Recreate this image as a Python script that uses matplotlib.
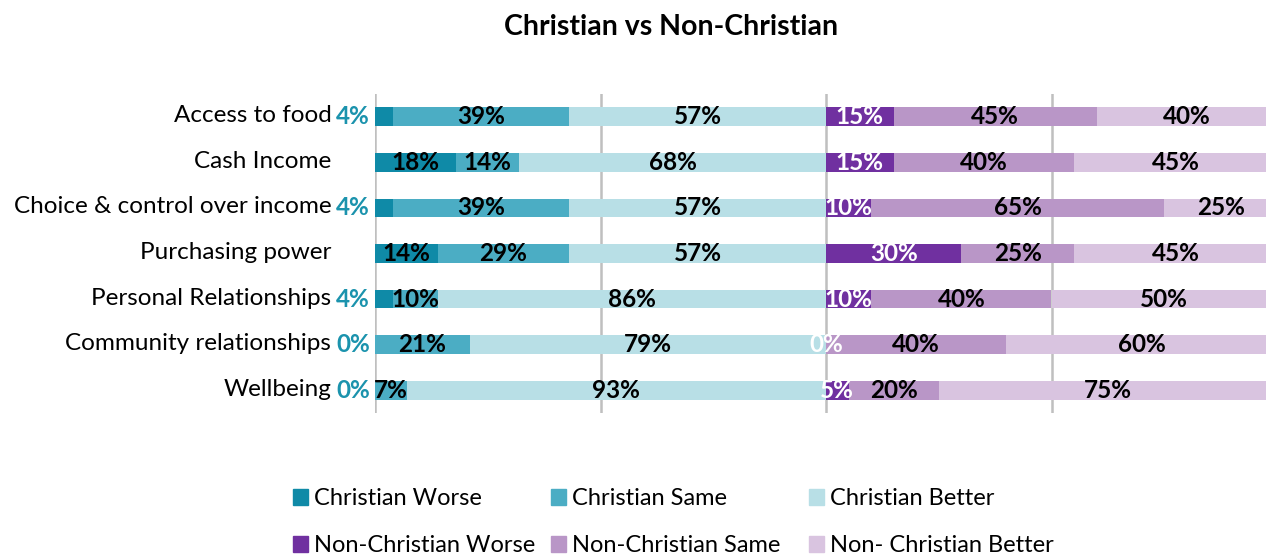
import matplotlib
matplotlib.use("Agg")
import matplotlib.pyplot as plt
import matplotlib.transforms as mtransforms
from matplotlib.patches import Patch
import numpy as np

plt.rcParams['font.family'] = ['Lato', 'DejaVu Sans']

categories = ["Access to food", "Cash Income", "Choice & control over income",
              "Purchasing power", "Personal Relationships",
              "Community relationships", "Wellbeing"]

christian_worse = [4, 18, 4, 14, 4, 0, 0]
christian_same = [39, 14, 39, 29, 10, 21, 7]
christian_better = [57, 68, 57, 57, 86, 79, 93]

non_christian_worse = [15, 15, 10, 30, 10, 0, 5]
non_christian_same = [45, 40, 65, 25, 40, 40, 20]
non_christian_better = [40, 45, 25, 45, 50, 60, 75]

series_names = ["Christian Worse", "Christian Same", "Christian Better",
                "Non-Christian Worse", "Non-Christian Same", "Non- Christian Better"]
colors = ["#0f8aa7", "#4badc4", "#b8dfe6", "#7030a0", "#b996c7", "#d9c4e0"]
label_colors = ["black", "black", "black", "white", "black", "black"]
outside_color = "#1b93ad"

series = [christian_worse, christian_same, christian_better,
          non_christian_worse, non_christian_same, non_christian_better]

fig = plt.figure(figsize=(12.66, 5.56), dpi=100)
ax = fig.add_axes([375 / 1266, 1 - 413 / 556, 902 / 1266, 319 / 556])

y = np.arange(len(categories))
left = np.zeros(len(categories))
bar_h = 0.41
val_fs = 17.5
for k, (vals, col) in enumerate(zip(series, colors)):
    vals = np.array(vals, dtype=float)
    ax.barh(y, vals, left=left, height=bar_h, color=col, zorder=3,
            label=series_names[k])
    for i, v in enumerate(vals):
        txt = f"{int(v)}%"
        if k == 0 and v < 5:
            ax.annotate(txt, (0, y[i]), xytext=(-3.5, 0), textcoords="offset points",
                        ha="right", va="center", fontsize=val_fs, fontweight="bold",
                        color=outside_color, zorder=5)
        else:
            ax.text(left[i] + v / 2, y[i], txt, ha="center", va="center",
                    fontsize=val_fs, fontweight="bold", color=label_colors[k], zorder=5)
    left += vals

ax.set_xlim(0, 200)
ax.set_ylim(len(categories) - 0.5, -0.5)
ax.set_xticks([0, 50, 100, 150, 200])
ax.xaxis.grid(True, color="#bfbfbf", linewidth=1.8, zorder=0)
ax.tick_params(axis="x", bottom=False, labelbottom=False)
ax.set_yticks(y)
ax.set_yticklabels(categories, fontsize=17.5)
ax.tick_params(axis="y", length=0, pad=31.5)
lift = mtransforms.ScaledTranslation(0, 3 / 100, fig.dpi_scale_trans)
for lbl in ax.get_yticklabels():
    lbl.set_transform(lbl.get_transform() + lift)
for s in ["top", "right", "bottom", "left"]:
    ax.spines[s].set_visible(False)

fig.suptitle("Christian vs Non-Christian", x=0.530, y=1 - 14 / 556, fontsize=20.5,
             fontweight="bold", va="top")

# Legend: one column per outcome (Worse / Same / Better), two rows
handles = [Patch(color=c) for c in colors]
col_x = [293, 551, 809]
for j in range(3):
    idx = [j, j + 3]
    fig.legend([handles[i] for i in idx], [series_names[i] for i in idx],
               loc="upper left", bbox_to_anchor=(col_x[j] / 1266, 1 - 488 / 556),
               ncol=1, frameon=False, fontsize=17, handlelength=0.65,
               handleheight=0.65, handletextpad=0.25,
               labelspacing=1.1, borderaxespad=0, borderpad=0)

fig.savefig("out.png", dpi=100)
